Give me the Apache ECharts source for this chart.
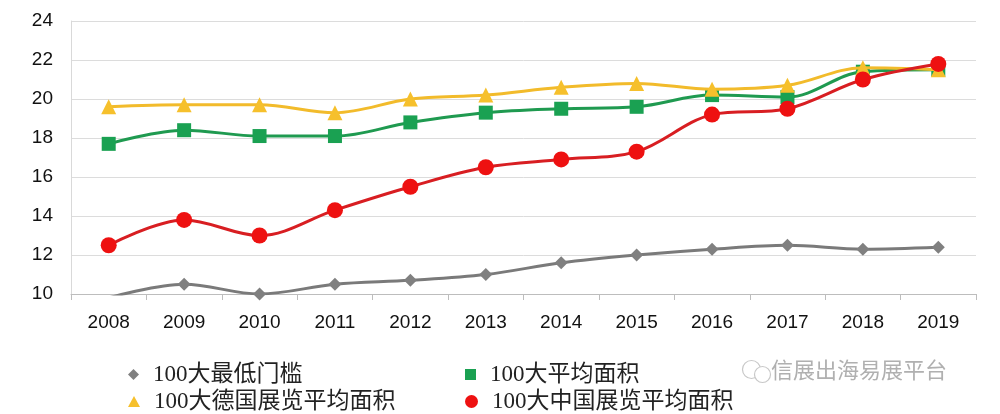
<!DOCTYPE html>
<html><head><meta charset="utf-8">
<script src="https://cdn.jsdelivr.net/npm/echarts@6/dist/echarts.min.js"></script>
<style>html,body{margin:0;padding:0;background:#fff}#c{width:1000px;height:414px}</style>
</head><body><div id="c"></div>
<script>
var years = ['2008','2009','2010','2011','2012','2013','2014','2015','2016','2017','2018','2019'];
var seriesNames = ['100大最低门槛','100大平均面积','100大德国展览平均面积','100大中国展览平均面积'];
var minThreshold = [9.8,10.5,10.0,10.5,10.7,11.0,11.6,12.0,12.3,12.5,12.3,12.4];
var avgArea = [17.7,18.4,18.1,18.1,18.8,19.3,19.5,19.6,20.2,20.1,21.4,21.5];
var germanyAvg = [19.6,19.7,19.7,19.3,20.0,20.2,20.6,20.8,20.5,20.7,21.6,21.5];
var chinaAvg = [12.5,13.8,13.0,14.3,15.5,16.5,16.9,17.3,19.2,19.5,21.0,21.8];
var yTicks = {min:10, max:24, interval:2};
var watermark = '信展出海易展平台';

var colors = ['#808080','#1aa152','#f6c02c','#ee1111'];
var lineColors = ['#7a7a7a','#1f9a50','#f2bb2b','#d81e22'];
var symbols = ['diamond','rect','triangle','circle'];
var symSizes = [13,14,15,16];
var datas = [minThreshold, avgArea, germanyAvg, chinaAvg];

var legendFont = {fontFamily:'"Liberation Serif","Noto Sans CJK SC",serif', fontSize:23, color:'#222', padding:[0,0,0,9]};
var legendPos = [[123,358],[460,358],[123,385],[460,385]];
var legends = seriesNames.map(function(n,i){
  return {data:[{name:n, icon:symbols[i]}], left:legendPos[i][0], top:legendPos[i][1],
    itemWidth:[11,11,12,13][i], itemHeight:[11,11,11,14][i], textStyle:legendFont, selectedMode:false};
});

var chart = echarts.init(document.getElementById('c'), null, {renderer:'canvas'});
chart.setOption({
  animation:false,
  backgroundColor:'#fff',
  grid:{left:71, right:24, top:21, bottom:120, containLabel:false},
  legend: legends,
  xAxis:{type:'category', data:years, boundaryGap:true,
    axisLine:{show:true, lineStyle:{color:'#bdbdbd', width:1}},
    axisTick:{show:true, length:6, lineStyle:{color:'#bdbdbd'}},
    axisLabel:{fontFamily:'"Liberation Sans",Arial,sans-serif', fontSize:19, color:'#111', margin:19},
    splitLine:{show:false}},
  yAxis:{type:'value', min:yTicks.min, max:yTicks.max, interval:yTicks.interval,
    axisLine:{show:true, lineStyle:{color:'#d9d9d9'}},
    axisTick:{show:false},
    axisLabel:{fontFamily:'"Liberation Sans",Arial,sans-serif', fontSize:19, color:'#111', margin:18},
    splitLine:{show:true, lineStyle:{color:'#dcdcdc', width:1}}},
  graphic:[
    {type:'group', left:740, top:358, children:[
      {type:'circle', shape:{cx:10, cy:10, r:9}, style:{fill:'none', stroke:'#c8c8c8', lineWidth:1.2}},
      {type:'circle', shape:{cx:21, cy:15, r:8}, style:{fill:'#fff', stroke:'#c8c8c8', lineWidth:1.2}}
    ]},
    {type:'text', left:771, top:359, style:{text:watermark, fontFamily:'"Noto Sans CJK SC",sans-serif', fontSize:22, fill:'#b0b0b0'}}
  ],
  series: seriesNames.map(function(n,i){
    return {name:n, type:'line', data:datas[i], smooth:0.35, clip:true,
      symbol:symbols[i], symbolSize:symSizes[i], showSymbol:true,
      itemStyle:{color:colors[i]}, lineStyle:{color:lineColors[i], width:3},
      z:2+i};
  })
});
</script></body></html>
